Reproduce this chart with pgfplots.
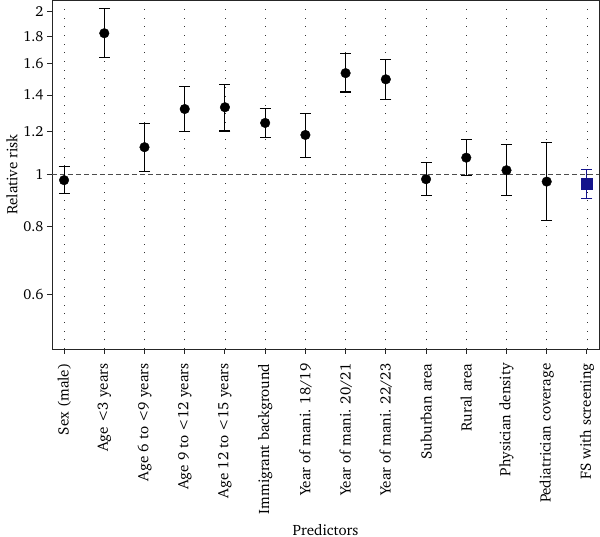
\documentclass[border=0pt]{standalone}
\usepackage[T1]{fontenc}
\usepackage{charter}
\usepackage{pgfplots}
\usepackage{pgfplotstable}
\pgfplotsset{compat=1.18}
\definecolor{fsblue}{RGB}{20,20,140}

\pgfplotstableread{
x y ep em
0 0.975 0.058 0.053
1 1.823 0.199 0.176
2 1.122 0.120 0.111
3 1.320 0.134 0.121
4 1.330 0.134 0.128
5 1.244 0.080 0.076
6 1.182 0.114 0.107
7 1.538 0.135 0.119
8 1.498 0.132 0.121
9 0.979 0.071 0.067
10 1.073 0.087 0.077
11 1.017 0.117 0.104
12 0.969 0.177 0.147
}\datablack

\pgfplotstableread{
x y ep em
13 0.961 0.060 0.060
}\datablue

\begin{document}
\begin{tikzpicture}
\begin{axis}[
  name=ax,
  scale only axis,
  width=547pt, height=349pt,
  ymode=log,
  xmin=-0.3, xmax=13.3,
  ymin=0.475, ymax=2.1,
  axis line style={line width=0.9pt, black!85},
  xtick={0,...,13},
  xticklabels={Sex (male), Age <3 years, Age 6 to <9 years, Age 9 to <12 years, Age 12 to <15 years, Immigrant background, Year of mani. 18/19, Year of mani. 20/21, Year of mani. 22/23, Suburban area, Rural area, Physician density, Pediatrician coverage, FS with screening},
  x tick label style={rotate=90, anchor=east, font=\fontsize{15}{17}\selectfont, xshift=-6pt},
  ytick={0.6,0.8,1,1.2,1.4,1.6,1.8,2},
  yticklabels={0.6,0.8,1,1.2,1.4,1.6,1.8,2},
  y tick label style={font=\fontsize{14.5}{16}\selectfont},
  yminorticks=false,
  tick align=outside,
  tick pos=left,
  major tick length=5pt,
  tick style={line width=0.9pt, black!85},
  xmajorgrids,
  grid style={black!80, line width=0.7pt, dash pattern=on 0.8pt off 7.9pt},
  xlabel={Predictors},
  ylabel={Relative risk},
  xlabel style={font=\fontsize{15}{17}\selectfont, at={(axis description cs:0.5,0)}, anchor=base, yshift=-186pt},
  ylabel style={font=\fontsize{15}{17}\selectfont, at={(axis description cs:-0.0731,0.5)}, anchor=center},
  clip=false,
]
\addplot[black!70, line width=1.1pt, dash pattern=on 5pt off 3pt, forget plot] coordinates {(-0.3,1) (13.3,1)};
\addplot[only marks, mark=*, mark size=4.8pt, black,
  error bars/.cd, y dir=both, y explicit,
  error bar style={line width=1.1pt, black},
  error mark options={rotate=90, mark size=5.5pt, line width=1.1pt, black}]
  table[x=x, y=y, y error plus=ep, y error minus=em]{\datablack};
\addplot[only marks, mark=square*, mark size=5.5pt, fsblue,
  error bars/.cd, y dir=both, y explicit,
  error bar style={line width=1.1pt, fsblue},
  error mark options={rotate=90, mark size=5.5pt, line width=1.1pt, fsblue}]
  table[x=x, y=y, y error plus=ep, y error minus=em]{\datablue};
\end{axis}
\pgfresetboundingbox
\path[use as bounding box] ([xshift=-52pt,yshift=-188pt]ax.south west) rectangle ([xshift=1pt]ax.north east);
\end{tikzpicture}
\end{document}
